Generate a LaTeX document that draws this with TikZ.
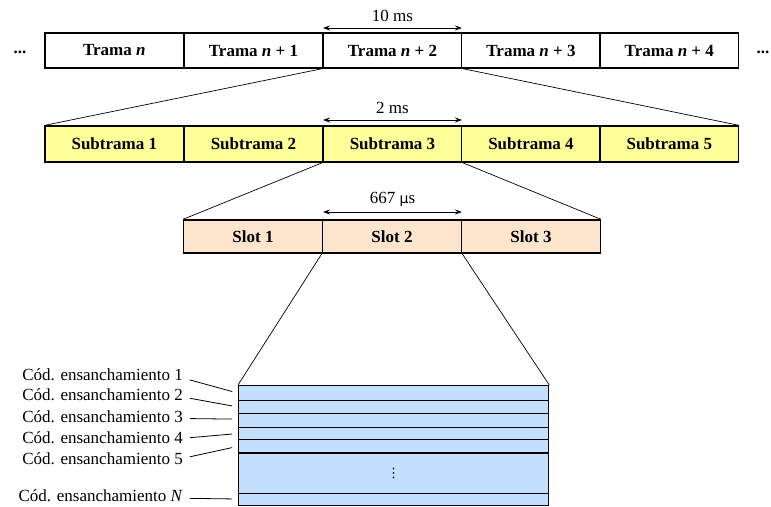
\documentclass[tikz,border=0pt]{standalone}
\usepackage{fontspec}
\setmainfont{Liberation Serif}
\newfontfamily\symfont{DejaVu Sans}
\usetikzlibrary{arrows.meta}
\definecolor{frameyellow}{HTML}{FFFF99}
\definecolor{slotpeach}{HTML}{FDE5CD}
\definecolor{codeblue}{HTML}{C2DFFF}
\tikzset{
  cell/.style={draw, line width=1.2pt, inner sep=0pt, minimum height=35pt,
    minimum width=138.6pt, font=\fontsize{17}{20}\selectfont\bfseries},
  trama/.style={cell, fill=white},
  subtrama/.style={cell, fill=frameyellow, minimum height=36pt},
  slotcell/.style={cell, fill=slotpeach, minimum width=139pt, minimum height=33pt},
  stripe/.style={draw, line width=1.3pt, fill=codeblue, inner sep=0pt,
    minimum width=310pt, anchor=north west},
  codelabel/.style={anchor=east, inner sep=0pt, font=\fontsize{17}{20}\selectfont},
  durlabel/.style={inner sep=0pt, font=\fontsize{17}{20}\selectfont},
  zoomline/.style={line width=0.7pt},
  tick/.style={line width=0.8pt, shorten <=7pt, shorten >=6pt},
  span/.style={line width=1pt, {Stealth[length=7pt,width=5pt]}-{Stealth[length=7pt,width=5pt]}},
  dots/.style={inner sep=0pt, font=\fontsize{17}{20}\selectfont\bfseries}
}
\begin{document}
\begin{tikzpicture}[x=1pt, y=-1pt]
\useasboundingbox (0,0) rectangle (771,506);

% frames
\node[trama] (t0) at (114.3,50.5) {Trama \textit{n}};
\node[trama] (t1) at (253.5,50.5) {Trama \textit{n} + 1};
\node[trama] (t2) at (392.5,50.5) {Trama \textit{n} + 2};
\node[trama] (t3) at (531,50.5) {Trama \textit{n} + 3};
\node[trama] (t4) at (669.3,50.5) {Trama \textit{n} + 4};
\node[dots] (dl) at (20,52) {...};
\node[dots] (dr) at (763,52) {...};

% subframes
\node[subtrama] (s1) at (114.3,144) {Subtrama 1};
\node[subtrama] (s2) at (253.5,144) {Subtrama 2};
\node[subtrama] (s3) at (392.5,144) {Subtrama 3};
\node[subtrama] (s4) at (531,144) {Subtrama 4};
\node[subtrama] (s5) at (669.3,144) {Subtrama 5};

% slots
\node[slotcell] (sl1) at (253,236.5) {Slot 1};
\node[slotcell] (sl2) at (392,236.5) {Slot 2};
\node[slotcell] (sl3) at (531,236.5) {Slot 3};

% spreading-code stripes
\node[stripe, minimum height=15pt]   (c1) at (238,385)   {};
\node[stripe, minimum height=12.7pt] (c2) at (238,400)   {};
\node[stripe, minimum height=14pt]   (c3) at (238,412.7) {};
\node[stripe, minimum height=12.3pt] (c4) at (238,426.7) {};
\node[stripe, minimum height=13.3pt] (c5) at (238,439)   {};
\node[stripe, minimum height=40.4pt] (cg) at (238,452.3) {};
\node[stripe, minimum height=12.3pt] (cN) at (238,492.7) {};
\node[inner sep=0pt, font=\symfont\fontsize{13}{13}\selectfont] (vd) at (cg.center) {⋮};

% duration arrows
\coordinate (a1) at (323,28);  \coordinate (b1) at (462,28);
\coordinate (a2) at (323,120); \coordinate (b2) at (462,120);
\coordinate (a3) at (323,212); \coordinate (b3) at (462,212);
\draw[span] (a1) -- (b1);
\draw[span] (a2) -- (b2);
\draw[span] (a3) -- (b3);
\node[durlabel] (d1) at (392.5,16) {10 ms};
\node[durlabel] (d2) at (392.5,108) {2 ms};
\node[durlabel] (d3) at (392.5,199) {667 {\symfont\fontsize{14}{14}\selectfont μ}s};

% zoom lines
\draw[zoomline] (t2.south west) -- (s1.north west);
\draw[zoomline] (t2.south east) -- (s5.north east);
\draw[zoomline] (s3.south west) -- (sl1.north west);
\draw[zoomline] (s3.south east) -- (sl3.north east);
\draw[zoomline] (sl2.south west) -- (c1.north west);
\draw[zoomline] (sl2.south east) -- (c1.north east);

% code labels
\node[codelabel] (l1) at (183,375)   {Cód. ensanchamiento 1};
\node[codelabel] (l2) at (183,395)   {Cód. ensanchamiento 2};
\node[codelabel] (l3) at (183,416.7) {Cód. ensanchamiento 3};
\node[codelabel] (l4) at (183,437.3) {Cód. ensanchamiento 4};
\node[codelabel] (l5) at (183,458.3) {Cód. ensanchamiento 5};
\node[codelabel] (lN) at (183,496)   {Cód. ensanchamiento \textit{N}};
\draw[tick] ([yshift=-3pt]l1.east) -- (c1.west);
\draw[tick] ([yshift=-2pt]l2.east) -- (c2.west);
\draw[tick] ([yshift=-1.8pt]l3.east) -- ([yshift=1.2pt]c3.west);
\draw[tick] ([yshift=-1pt]l4.east) -- (c4.west);
\draw[tick] (l5.east) -- (c5.west);
\draw[tick] ([yshift=-2.3pt]lN.east) -- ([yshift=0.5pt]cN.west);
\end{tikzpicture}
\end{document}
